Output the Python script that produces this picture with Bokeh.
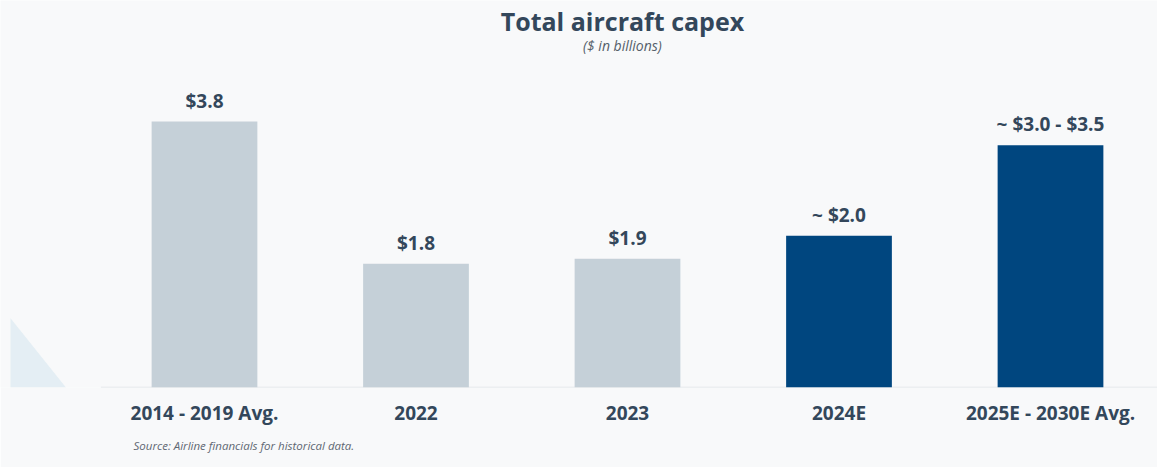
from bokeh.plotting import figure
from bokeh.models import Range1d, FixedTicker, ColumnDataSource, Label, Title
from bokeh.core.properties import value
from bokeh.embed import file_html
from bokeh.resources import INLINE

# ---- data ----
categories = ["2014 - 2019 Avg.", "2022", "2023", "2024E", "2025E - 2030E Avg."]
capex = [3.8, 1.77, 1.84, 2.17, 3.46]
value_labels = ["$3.8", "$1.8", "$1.9", "~ $2.0", "~ $3.0 - $3.5"]
kind = ["actual", "actual", "actual", "estimate", "estimate"]

colors = {"actual": "#c5d0d8", "estimate": "#00467f"}
TEXT = "#33475b"
BG = "#f8f9fa"

xs = list(range(len(categories)))
src = ColumnDataSource(dict(x=xs, top=capex, lab=value_labels,
                            color=[colors[k] for k in kind]))

p = figure(width=1157, height=467, output_backend="svg", toolbar_location=None,
           x_range=Range1d(-0.9645, 4.5059), y_range=Range1d(0, 5.53),
           min_border_left=0, min_border_right=0, min_border_top=0, min_border_bottom=80,
           background_fill_color=BG, border_fill_color=BG, outline_line_color=None)

p.grid.visible = False
p.yaxis.visible = False

# faint logo wedge at left
p.patch([-0.917, -0.917, -0.655], [0.99, 0.0, 0.0], fill_color="#dce9f1", fill_alpha=0.7,
        line_color=None)

# baseline
p.segment(x0=[-0.49], y0=[0], x1=[4.6], y1=[0], line_color="#dfe3e7", line_width=1.5)

p.vbar(x="x", top="top", width=0.5, bottom=0, source=src, fill_color="color", line_color=None)

p.text(x="x", y="top", text="lab", source=src, text_align="center", text_baseline="alphabetic",
       y_offset=-21, text_font=value("Open Sans"), text_font_style="bold",
       text_font_size="19px", text_color=TEXT)

# x axis
ax = p.xaxis[0]
ax.ticker = FixedTicker(ticks=xs)
ax.major_label_overrides = {i: c for i, c in enumerate(categories)}
ax.axis_line_color = None
ax.major_tick_line_color = None
ax.minor_tick_line_color = None
ax.major_label_standoff = 6
ax.major_label_text_font = "Open Sans"
ax.major_label_text_font_style = "bold"
ax.major_label_text_font_size = "19px"
ax.major_label_text_color = TEXT

# source note
p.add_layout(Title(text="Source: Airline financials for historical data.", align="left",
                   offset=133, text_font="Open Sans", text_font_style="italic",
                   text_font_size="11.5px", text_color="#5f6873", standoff=14), "below")

# titles
p.add_layout(Label(x=1.976, y=5.24, text="Total aircraft capex", text_align="center",
                   text_baseline="middle", text_font="Open Sans", text_font_style="bold",
                   text_font_size="25px", text_color=TEXT))
p.add_layout(Label(x=1.976, y=4.88, text="($ in billions)", text_align="center",
                   text_baseline="middle", text_font="Open Sans", text_font_style="italic",
                   text_font_size="14px", text_color="#555f6a"))

open("out.html", "w").write(file_html(p, INLINE))
